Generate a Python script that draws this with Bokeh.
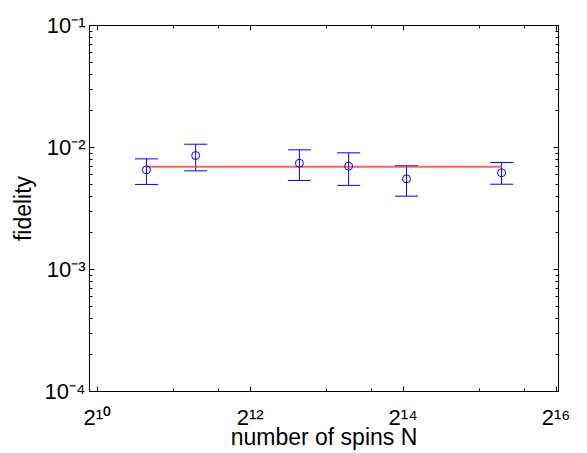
from bokeh.plotting import figure
from bokeh.models import (FixedTicker, LogAxis, Whisker, ColumnDataSource, TeeHead)
from bokeh.embed import file_html
from bokeh.resources import INLINE

# ---- data ----
n_spins = [1600, 2500, 6400, 10000, 16900, 40000]
fidelity = [6.56e-3, 8.59e-3, 7.43e-3, 7.03e-3, 5.53e-3, 6.21e-3]
err_upper = [8.07e-3, 1.064e-2, 9.57e-3, 9.04e-3, 7.08e-3, 7.53e-3]
err_lower = [4.98e-3, 6.44e-3, 5.37e-3, 4.89e-3, 3.99e-3, 5.00e-3]
fit_level = 6.95e-3

x_major = [1024, 4096, 16384, 65536]
x_minor = [2048, 3072, 8192, 12288, 32768, 49152]
x_labels = ["2\u00b9\u2070", "2\u00b9\u00b2", "2\u00b9\u2074", "2\u00b9\u2076"]
y_major = [1e-4, 1e-3, 1e-2, 1e-1]
y_minor = [m * d for d in [1e-4, 1e-3, 1e-2] for m in range(2, 10)]
y_labels = ["10\u207b\u2074", "10\u207b\u00b3", "10\u207b\u00b2", "10\u207b\u00b9"]
x_title = "number of spins N"
y_title = "fidelity"

X0, X1 = 955, 67000
Y0, Y1 = 1e-4, 1e-1
FONT = "Liberation Sans"

p = figure(width=587, height=453, x_axis_type="log", y_axis_type="log",
           x_range=(X0, X1), y_range=(Y0, Y1), output_backend="svg",
           toolbar_location=None, min_border_left=89, min_border_right=29,
           min_border_top=25, min_border_bottom=62)
p.grid.visible = False
p.outline_line_color = "black"
p.background_fill_color = "white"
p.border_fill_color = "white"


def ticks(ax):
    ax.major_tick_in = 5
    ax.major_tick_out = 0
    ax.minor_tick_in = 3
    ax.minor_tick_out = 0
    ax.axis_line_color = "black"
    ax.major_tick_line_color = "black"
    ax.minor_tick_line_color = "black"


xa = p.xaxis[0]
ya = p.yaxis[0]
xa.ticker = FixedTicker(ticks=x_major, minor_ticks=x_minor)
ya.ticker = FixedTicker(ticks=y_major, minor_ticks=y_minor)
for ax, labs in ((xa, x_labels), (ya, y_labels)):
    ticks(ax)
    ax.major_label_overrides = dict(zip(x_major if ax is xa else y_major, labs))
    ax.major_label_text_font = FONT
    ax.major_label_text_font_size = "22px"
    ax.major_label_text_color = "black"
    ax.axis_label_text_font = FONT
    ax.axis_label_text_font_size = "23px"
    ax.axis_label_text_font_style = "normal"
    ax.axis_label_text_color = "black"
xa.axis_label = x_title
ya.axis_label = y_title
xa.major_label_standoff = 13
ya.major_label_standoff = 4
xa.axis_label_standoff = -9
ya.axis_label_standoff = 6

top = LogAxis(ticker=FixedTicker(ticks=x_major, minor_ticks=x_minor),
              major_label_overrides=dict(zip(x_major, ["" for _ in x_major])))
right = LogAxis(ticker=FixedTicker(ticks=y_major, minor_ticks=y_minor),
                major_label_overrides=dict(zip(y_major, ["" for _ in y_major])))
for ax in (top, right):
    ticks(ax)
    ax.major_label_standoff = 0
p.add_layout(top, "above")
p.add_layout(right, "right")

# fit line
p.line([n_spins[0], n_spins[-1]], [fit_level, fit_level], line_color="#ff3030",
       line_width=2, line_alpha=0.75)

src = ColumnDataSource(dict(x=n_spins, y=fidelity, upper=err_upper, lower=err_lower))
w = Whisker(base="x", upper="upper", lower="lower", source=src,
            line_color="blue", line_width=1,
            upper_head=TeeHead(size=23, line_color="blue", line_width=1),
            lower_head=TeeHead(size=23, line_color="blue", line_width=1))
p.add_layout(w)
p.scatter("x", "y", source=src, marker="circle", size=8, fill_color=None,
          line_color="blue", line_width=1)

open("out.html", "w").write(file_html(p, INLINE))
